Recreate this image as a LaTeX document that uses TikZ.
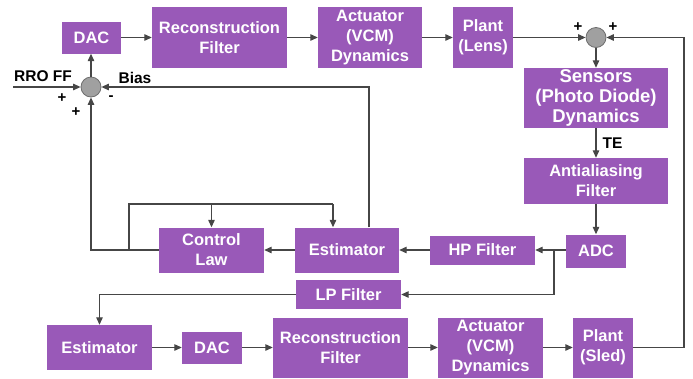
\documentclass[tikz,border=0pt]{standalone}
\usepackage{fontspec}
\setmainfont{Liberation Sans}
\usetikzlibrary{arrows.meta,calc}
\definecolor{boxfill}{RGB}{153,89,184}
\definecolor{wirecol}{RGB}{70,70,70}
\definecolor{sumfill}{RGB}{160,160,160}
\definecolor{sumedge}{RGB}{110,110,110}

\begin{document}
\begin{tikzpicture}[x=1pt,y=-1pt,
  blk/.style={rectangle, fill=boxfill, text=white,
    font=\fontsize{16.5}{20}\selectfont\bfseries, align=center, inner sep=0pt},
  sumnode/.style={circle, fill=sumfill, draw=sumedge, line width=0.8pt,
    minimum size=20pt, inner sep=0pt},
  wire/.style={draw=wirecol, line width=1.2pt},
  flow/.style={wire, -{Triangle[length=7.5pt,width=6.5pt]}},
  lbl/.style={font=\fontsize{15.5}{18}\selectfont\bfseries, text=black, inner sep=0pt},
  sgn/.style={font=\fontsize{15}{15}\selectfont\bfseries, text=black, inner sep=0pt}
]
\useasboundingbox (0,0) rectangle (693,378);

% upper (lens) loop
\node[blk, minimum width=59pt,  minimum height=32pt] (dacT) at (91.5,37.5) {DAC};
\node[blk, minimum width=135pt, minimum height=61pt] (recT) at (219.5,37.5) {Reconstruction\\Filter};
\node[blk, minimum width=104pt, minimum height=61pt] (actT) at (370,37.5) {Actuator\\(VCM)\\Dynamics};
\node[blk, minimum width=60pt,  minimum height=61pt] (plT)  at (483,37.5) {Plant\\(Lens)};
\node[sumnode] (sumT) at (596,37.5) {};
\node[blk, minimum width=144pt, minimum height=60pt,
      font=\fontsize{18.5}{20}\selectfont\bfseries] (sens) at (596,98) {Sensors\\(Photo Diode)\\Dynamics};
\node[blk, minimum width=144pt, minimum height=46pt] (anti) at (596,181) {Antialiasing\\Filter};
\node[blk, minimum width=60pt,  minimum height=33pt] (adc)  at (596,251) {ADC};
\node[blk, minimum width=105pt, minimum height=29pt] (hp)   at (482.5,250) {HP Filter};
\node[blk, minimum width=104pt, minimum height=45pt] (estM) at (347,250) {Estimator};
\node[blk, minimum width=105pt, minimum height=45pt] (ctl)  at (211.5,250) {Control\\Law};
\node[blk, minimum width=105pt, minimum height=29pt] (lp)   at (348.5,294.5) {LP Filter};
\node[sumnode] (sumL) at (91,87) {};

% lower (sled) path
\node[blk, minimum width=105pt, minimum height=45pt] (estB) at (99.5,347.5) {Estimator};
\node[blk, minimum width=60pt,  minimum height=32pt] (dacB) at (212,347.5) {DAC};
\node[blk, minimum width=135pt, minimum height=60pt] (recB) at (340.5,347.5) {Reconstruction\\Filter};
\node[blk, minimum width=105pt, minimum height=60pt] (actB) at (490.5,347.5) {Actuator\\(VCM)\\Dynamics};
\node[blk, minimum width=60pt,  minimum height=60pt] (plB)  at (603,347.5) {Plant\\(Sled)};

% labels and signs
\node[lbl] (rro)  at (43,76.5) {RRO FF};
\node[lbl] (bias) at (135,77.5) {Bias};
\node[sgn] (sa) at (62,98) {+};
\node[sgn] (sb) at (76,112) {+};
\node[sgn] (sc) at (111,98) {-};
\node[sgn] (sd) at (578,27) {+};
\node[sgn] (se) at (613,27) {+};

% helper points
\coordinate (rroIn) at (13,87);
\coordinate (br)    at (554,250);
\coordinate (lpTop) at (129,204);
\coordinate (tapE)  at (333,204);
\coordinate (biasX) at (369,0);
\coordinate (rtx)   at (684,37.5);

% upper forward path
\draw[flow] (dacT.east) -- (recT.west);
\draw[flow] (recT.east) -- (actT.west);
\draw[flow] (actT.east) -- (plT.west);
\draw[flow] (plT.east) -- (sumT.west);
\draw[flow] (sumT.south) -- (sens.north);
\draw[flow] (sens.south) -- node[lbl, anchor=west, xshift=6pt] (te) {TE} (anti.north);
\draw[flow] (anti.south) -- (adc.north);
\draw[flow] (hp.east -| adc.west) -- (hp.east);
\draw[flow] (hp.west) -- (estM.east);
\draw[flow] (estM.west) -- (ctl.east);
\draw[flow] (ctl.west) -| (sumL.south);
\draw[flow] (rroIn) -- (sumL.west);
\draw[flow] (sumL.north) -- (sumL.north |- dacT.south);
\draw[flow] (biasX |- estM.north) |- (sumL.east);

% estimator / control law loop
\draw[wire] (lpTop |- ctl.west) -- (lpTop) -- (tapE);
\draw[flow] (tapE) -- (tapE |- estM.north);
\draw[flow] (ctl.north |- lpTop) -- (ctl.north);

% low-pass branch to the sled path
\draw[flow] (br) |- (lp.east);
\draw[flow] (lp.west) -| (estB.north);
\draw[flow] (estB.east) -- (dacB.west);
\draw[flow] (dacB.east) -- (recB.west);
\draw[flow] (recB.east) -- (actB.west);
\draw[flow] (actB.east) -- (plB.west);
\draw[flow] (plB.east) -| (rtx) -- (sumT.east);
\end{tikzpicture}
\end{document}
